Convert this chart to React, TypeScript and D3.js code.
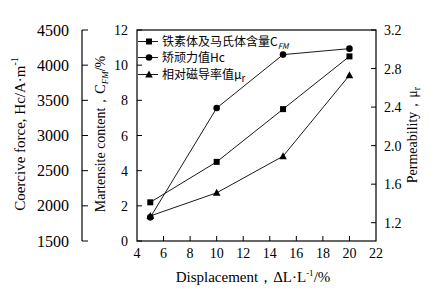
import React from "react";
import * as d3 from "d3";

const displacement = [5, 10, 15, 20];
const martensite = [2.2, 4.5, 7.5, 10.5];
const coercive = [1836, 3390, 4150, 4235];
const permeability = [1.27, 1.51, 1.89, 2.73];

const xTicks = [4, 6, 8, 10, 12, 14, 16, 18, 20, 22];
const mTicks = [0, 2, 4, 6, 8, 10, 12];
const hcTicks = [1500, 2000, 2500, 3000, 3500, 4000, 4500];
const muTicks = [1.2, 1.6, 2.0, 2.4, 2.8, 3.2];

const L = 137, R = 376, T = 30, B = 241;
const HC_X = 82;
const serif = "'Liberation Serif', 'DejaVu Serif', serif";
const cjk = "'Noto Sans CJK SC', sans-serif";

export default function App() {
  const x = d3.scaleLinear().domain([4, 22]).range([L, R]);
  const yM = d3.scaleLinear().domain([0, 12]).range([B, T]);
  const yHc = d3.scaleLinear().domain([1500, 4500]).range([B, T]);
  const yMu = d3.scaleLinear().domain([1.2, 3.2]).range([222.7, T]);

  const lineM = d3.line<number>().x((_, i) => x(displacement[i])).y((d) => yM(d));
  const lineHc = d3.line<number>().x((_, i) => x(displacement[i])).y((d) => yHc(d));
  const lineMu = d3.line<number>().x((_, i) => x(displacement[i])).y((d) => yMu(d));

  const square = (cx: number, cy: number, k: string) => (
    <rect key={k} x={cx - 3} y={cy - 3} width={6} height={6} fill="#000" />
  );
  const circle = (cx: number, cy: number, k: string) => (
    <circle key={k} cx={cx} cy={cy} r={3.3} fill="#000" />
  );
  const tri = (cx: number, cy: number, k: string) => (
    <path key={k} d={`M${cx},${cy - 4}L${cx + 3.8},${cy + 3}L${cx - 3.8},${cy + 3}Z`} fill="#000" />
  );

  const legend = [
    { y: 41.5, m: square, label: (<>铁素体及马氏体含量C<tspan fontSize={8} fontStyle="italic" dy={3}>FM</tspan></>) },
    { y: 57.5, m: circle, label: (<>矫顽力值Hc</>) },
    { y: 74.5, m: tri, label: (<>相对磁导率值μ<tspan fontSize={10} dy={3}>r</tspan></>) },
  ];

  return (
    <svg width={435} height={306} style={{ position: "absolute", left: 0, top: 0, background: "#fff" }}>
      {/* plot frame */}
      <rect x={L} y={T} width={R - L} height={B - T} fill="none" stroke="#000" strokeWidth={1.2} />

      {/* x ticks */}
      {xTicks.map((t) => (
        <g key={"x" + t}>
          {t > 4 && t < 22 && <line x1={x(t)} x2={x(t)} y1={B} y2={B - 5} stroke="#000" />}
          <text x={x(t)} y={B + 17} textAnchor="middle" fontFamily={serif} fontSize={14} fill="#000">{t}</text>
        </g>
      ))}

      {/* martensite ticks */}
      {mTicks.map((t) => (
        <g key={"m" + t}>
          <line x1={L} x2={L + 5} y1={yM(t)} y2={yM(t)} stroke="#000" />
          <text x={128} y={yM(t) + 5} textAnchor="end" fontFamily={serif} fontSize={14} fill="#000">{t}</text>
        </g>
      ))}

      {/* coercive axis */}
      <line x1={HC_X} x2={HC_X} y1={T} y2={B} stroke="#000" strokeWidth={1.2} />
      {hcTicks.map((t) => (
        <g key={"h" + t}>
          <line x1={HC_X} x2={HC_X + 6} y1={yHc(t)} y2={yHc(t)} stroke="#000" />
          <text x={69} y={yHc(t) + 5.5} textAnchor="end" fontFamily={serif} fontSize={16} fill="#000">{t}</text>
        </g>
      ))}

      {/* permeability ticks */}
      {muTicks.map((t) => (
        <g key={"u" + t}>
          <line x1={R} x2={R - 5} y1={yMu(t)} y2={yMu(t)} stroke="#000" />
          <text x={384} y={yMu(t) + 5} textAnchor="start" fontFamily={serif} fontSize={14} fill="#000">{t.toFixed(1)}</text>
        </g>
      ))}

      {/* series lines */}
      <path d={lineM(martensite) || ""} fill="none" stroke="#000" strokeWidth={0.9} />
      <path d={lineHc(coercive) || ""} fill="none" stroke="#000" strokeWidth={0.9} />
      <path d={lineMu(permeability) || ""} fill="none" stroke="#000" strokeWidth={0.9} />
      {martensite.map((v, i) => square(x(displacement[i]), yM(v), "sq" + i))}
      {coercive.map((v, i) => circle(x(displacement[i]), yHc(v), "ci" + i))}
      {permeability.map((v, i) => tri(x(displacement[i]), yMu(v), "tr" + i))}

      {/* legend */}
      {legend.map((l, i) => (
        <g key={"lg" + i}>
          <line x1={138} x2={158} y1={l.y} y2={l.y} stroke="#000" strokeWidth={0.9} />
          {l.m(149, l.y, "lm" + i)}
          <text x={162} y={l.y + 4.5} fontFamily={cjk} fontSize={12} fill="#000">{l.label}</text>
        </g>
      ))}

      {/* axis titles */}
      <text x={253} y={282} textAnchor="middle" fontFamily={serif} fontSize={15} fill="#000">
        Displacement，ΔL·L<tspan fontSize={9} dy={-6}>-1</tspan><tspan dy={6}>/%</tspan>
      </text>
      <text transform="translate(25,134) rotate(-90)" textAnchor="middle" fontFamily={serif} fontSize={15} fill="#000">
        Coercive force, Hc/A·m<tspan fontSize={10} dy={-7}>-1</tspan>
      </text>
      <text transform="translate(105,134) rotate(-90)" textAnchor="middle" fontFamily={serif} fontSize={14} fill="#000">
        Martensite content，C<tspan fontSize={9} fontStyle="italic" dy={3}>FM</tspan><tspan dy={-3}>/%</tspan>
      </text>
      <text transform="translate(417,135) rotate(-90)" textAnchor="middle" fontFamily={serif} fontSize={14} fill="#000">
        Permeability，μ<tspan fontSize={10} dy={3}>r</tspan>
      </text>
    </svg>
  );
}
